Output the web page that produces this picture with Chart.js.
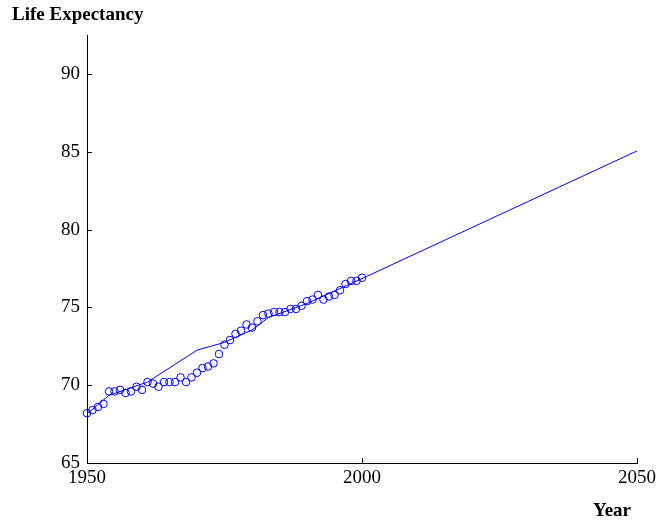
<!DOCTYPE html>
<html>
<head>
<meta charset="utf-8">
<script src="https://cdn.jsdelivr.net/npm/chart.js@4"></script>
<style>
  body { margin: 0; background: #fff; }
  #wrap { width: 658px; height: 523px; }
</style>
</head>
<body>
<div id="wrap"><canvas id="myChart" width="658" height="523"></canvas></div>
<script>
// observed life expectancy, one point a year
const years = [1950, 1951, 1952, 1953, 1954, 1955, 1956, 1957, 1958, 1959,
  1960, 1961, 1962, 1963, 1964, 1965, 1966, 1967, 1968, 1969,
  1970, 1971, 1972, 1973, 1974, 1975, 1976, 1977, 1978, 1979,
  1980, 1981, 1982, 1983, 1984, 1985, 1986, 1987, 1988, 1989,
  1990, 1991, 1992, 1993, 1994, 1995, 1996, 1997, 1998, 1999, 2000];
const lifeExp = [68.2, 68.4, 68.6, 68.8, 69.6, 69.6, 69.7, 69.5, 69.6, 69.9,
  69.7, 70.2, 70.1, 69.9, 70.2, 70.2, 70.2, 70.5, 70.2, 70.5,
  70.8, 71.1, 71.2, 71.4, 72.0, 72.6, 72.9, 73.3, 73.5, 73.9,
  73.7, 74.1, 74.5, 74.6, 74.7, 74.7, 74.7, 74.9, 74.9, 75.1,
  75.4, 75.5, 75.8, 75.5, 75.7, 75.8, 76.1, 76.5, 76.7, 76.7, 76.9];

// fitted trend line with projection
const fitYears = [1950, 1954, 1961, 1970, 1975, 1980, 1983, 1990, 2000, 2050];
const fitValues = [68.15, 69.35, 70.2, 72.25, 72.75, 73.55, 74.35, 75.25, 76.85, 85.05];

const xTicks = [1950, 2000, 2050];
const yTicks = [65, 70, 75, 80, 85, 90];

const serif = "'Liberation Serif', 'Times New Roman', serif";
const blue = '#0000ff';

// inward tick marks + the two axis captions
const decor = {
  id: 'decor',
  afterDraw(chart) {
    const ctx = chart.ctx;
    const xs = chart.scales.x, ys = chart.scales.y;
    const area = chart.chartArea;
    ctx.save();
    ctx.strokeStyle = '#000';
    ctx.lineWidth = 1;
    ctx.beginPath();
    yTicks.forEach(v => {
      const py = Math.round(ys.getPixelForValue(v)) + 0.5;
      ctx.moveTo(area.left, py);
      ctx.lineTo(area.left + 5, py);
    });
    xTicks.forEach(v => {
      const px = Math.round(xs.getPixelForValue(v)) + 0.5;
      ctx.moveTo(px, area.bottom);
      ctx.lineTo(px, area.bottom - 5);
    });
    ctx.stroke();

    ctx.fillStyle = '#000';
    ctx.font = 'bold 19px ' + serif;
    ctx.textBaseline = 'alphabetic';
    ctx.textAlign = 'left';
    ctx.fillText('Life Expectancy', 12, 20);
    ctx.textAlign = 'right';
    ctx.fillText('Year', 631, 516);
    ctx.restore();
  }
};

const chart_obj = document.getElementById('myChart');

new Chart(chart_obj, {
  type: 'scatter',
  data: {
    datasets: [{
      label: 'Observed',
      data: years.map((y, i) => ({ x: y, y: lifeExp[i] })),
      borderColor: blue,
      backgroundColor: 'rgba(0,0,0,0)',
      pointRadius: 3.8,
      pointBorderWidth: 1,
      showLine: false,
      clip: false
    }, {
      label: 'Fit',
      data: fitYears.map((y, i) => ({ x: y, y: fitValues[i] })),
      borderColor: blue,
      borderWidth: 1,
      pointRadius: 0,
      showLine: true,
      tension: 0
    }]
  },
  options: {
    responsive: false,
    animation: false,
    layout: { padding: { left: 0, right: 21, top: 35, bottom: 0 } },
    plugins: {
      legend: { display: false },
      tooltip: { enabled: false }
    },
    scales: {
      x: {
        type: 'linear',
        min: 1950,
        max: 2050,
        afterBuildTicks: s => { s.ticks = xTicks.map(v => ({ value: v })); },
        afterFit: s => { s.height = 60; },
        // tick marks hidden, tickLength only used as label offset
        grid: { display: false, drawTicks: true, tickLength: 4 },
        border: { display: true, color: '#000', width: 1 },
        ticks: {
          color: '#000',
          padding: 0,
          maxRotation: 0,
          font: { family: serif, size: 19 },
          callback: v => String(v)
        }
      },
      y: {
        type: 'linear',
        min: 65,
        max: 92.5,
        afterBuildTicks: s => { s.ticks = yTicks.map(v => ({ value: v })); },
        afterFit: s => { s.width = 87; },
        grid: { display: false, drawTicks: false },
        border: { display: true, color: '#000', width: 1 },
        ticks: {
          color: '#000',
          padding: 7,
          font: { family: serif, size: 19 },
          callback: v => String(v)
        }
      }
    }
  },
  plugins: [decor]
});
</script>
</body>
</html>
